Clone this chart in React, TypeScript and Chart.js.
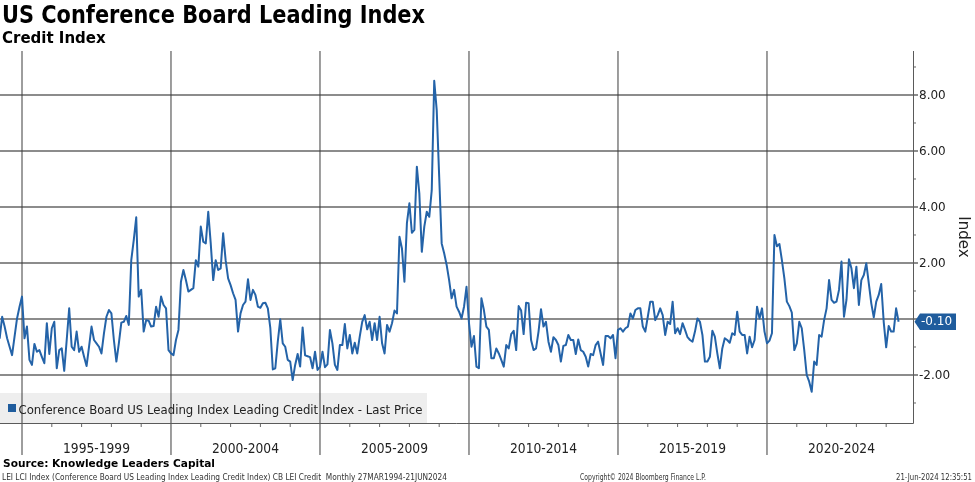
import React, { useEffect, useRef } from 'react';
import { Chart, registerables } from 'chart.js';

Chart.register(...registerables);

const TITLE = 'US Conference Board Leading Index';
const SUBTITLE = 'Credit Index';
const SERIES_LABEL = 'Conference Board US Leading Index Leading Credit Index - Last Price';
const Y_TITLE = 'Index';
const SOURCE = 'Source: Knowledge Leaders Capital';
const FOOT_LEFT = 'LEI LCI Index (Conference Board US Leading Index Leading Credit Index) CB LEI Credit  Monthly 27MAR1994-21JUN2024';
const FOOT_MID = 'Copyright\u00A9 2024 Bloomberg Finance L.P.';
const FOOT_RIGHT = '21-Jun-2024 12:35:51';

// Monthly observations starting March 1994
const START_YEAR = 1994;
const START_MONTH = 3;
const VALUES = [
  -0.2, -0.7, 0.08, -0.27, -0.69, -0.99, -1.29, -0.63, 0.02, 0.44,
  0.8, -0.69, -0.27, -1.46, -1.64, -0.89, -1.17, -1.11, -1.35, -1.58, -0.15, -1.25,
  -0.33, -0.1, -1.76, -1.11, -1.05, -1.85, -0.75, 0.38, -0.99, -1.11, -0.45, -1.17,
  -0.99, -1.35, -1.68, -0.99, -0.27, -0.75, -0.87, -0.99, -1.23, -0.51, 0.08, 0.32,
  0.2, -0.75, -1.52, -0.87, -0.13, -0.1, 0.11, -0.21, 2.1, 2.82, 3.63, 0.8,
  1.04, -0.45, -0.04, -0.06, -0.27, -0.25, 0.44, 0.08, 0.8, 0.5, 0.38, -1.11,
  -1.23, -1.29, -0.75, -0.39, 1.33, 1.75, 1.39, 0.98, 1.04, 1.1, 2.1, 1.87,
  3.3, 2.76, 2.7, 3.83, 2.7, 1.39, 2.1, 1.75, 1.81, 3.06, 2.1, 1.45,
  1.21, 0.92, 0.68, -0.45, 0.2, 0.5, 0.62, 1.42, 0.68, 1.04, 0.86, 0.44,
  0.4, 0.56, 0.58, 0.38, -0.33, -1.8, -1.76, -0.81, -0.01, -0.87, -0.99, -1.46,
  -1.52, -2.18, -1.64, -1.25, -1.7, -0.3, -1.3, -1.33, -1.36, -1.76, -1.17, -1.82,
  -1.71, -1.17, -1.72, -1.62, -0.39, -0.87, -1.64, -1.82, -0.93, -0.93, -0.18, -1.05,
  -0.57, -1.23, -0.85, -1.23, -0.63, -0.1, 0.14, -0.37, -0.1, -0.75, -0.15, -0.75,
  0.08, -0.87, -1.23, -0.21, -0.45, -0.15, 0.3, 0.2, 2.94, 2.52, 1.33, 3.42,
  4.13, 3.08, 3.18, 5.44, 4.49, 2.4, 3.3, 3.83, 3.65, 4.6, 8.51, 7.46,
  5.08, 2.7, 2.35, 1.93, 1.39, 0.74, 1.04, 0.44, 0.26, 0.02, 0.44, 1.15,
  -0.15, -0.99, -0.61, -1.7, -1.76, 0.74, 0.32, -0.27, -0.39, -1.4, -1.4, -1.05,
  -1.23, -1.46, -1.7, -0.93, -1.05, -0.54, -0.42, -1.11, 0.46, 0.3, -0.54, 0.58,
  0.56, -0.75, -1.11, -1.05, -0.45, 0.35, -0.27, -0.1, -0.81, -1.17, -0.65, -0.75,
  -0.93, -1.52, -0.96, -0.93, -0.57, -0.75, -0.75, -1.25, -0.73, -1.11, -1.17, -1.35,
  -1.7, -1.25, -1.29, -0.93, -0.81, -1.23, -1.64, -0.61, -0.61, -0.69, -0.57, -1.4,
  -0.39, -0.33, -0.45, -0.33, -0.27, 0.2, 0.02, 0.32, 0.38, 0.38, -0.27, -0.45,
  0.08, 0.62, 0.62, -0.04, 0.14, 0.38, 0.14, -0.57, -0.1, -0.18, 0.62, -0.51,
  -0.33, -0.54, -0.15, -0.39, -0.65, -0.75, -0.81, -0.45, 0.02, -0.1, -0.57, -1.52,
  -1.52, -1.35, -0.42, -0.63, -1.23, -1.76, -1.05, -0.69, -0.75, -0.85, -0.51, -0.57,
  0.26, -0.45, -0.57, -0.57, -1.23, -0.63, -1.01, -0.75, 0.44, 0.02, 0.38, -0.45,
  -0.87, -0.77, -0.51, 3.0, 2.6, 2.68, 2.1, 1.45, 0.62, 0.46, 0.23, -1.11,
  -0.87, -0.1, -0.33, -1.11, -2.0, -2.24, -2.6, -1.52, -1.64, -0.57, -0.63, -0.04,
  0.38, 1.39, 0.68, 0.58, 0.62, 1.04, 2.05, 0.08, 0.68, 2.13, 1.81, 1.1,
  1.87, 0.5, 1.39, 1.57, 1.99, 1.27, 0.56, 0.06, 0.62, 0.86, 1.25, -0.1,
  -1.01, -0.25, -0.45, -0.45, 0.38, -0.1,
];

const PERIOD_LABELS = ['1995-1999', '2000-2004', '2005-2009', '2010-2014', '2015-2019', '2020-2024'];
const PERIOD_BOUNDS = [1995, 2000, 2005, 2010, 2015, 2020, 2025];
const Y_TICKS = [-2, 0, 2, 4, 6, 8];
const Y_MINOR = [-3, -1, 1, 3, 5, 7, 9];

const LINE_COLOR = '#2463a8';
const TAG_COLOR = '#1f5c9d';
const FONT = '"DejaVu Sans", Verdana, sans-serif';

function text(
  ctx: CanvasRenderingContext2D,
  s: string,
  x: number,
  y: number,
  font: string,
  color: string,
  align: CanvasTextAlign,
  maxW?: number,
  baseline: CanvasTextBaseline = 'alphabetic'
) {
  ctx.font = font;
  ctx.fillStyle = color;
  ctx.textAlign = align;
  ctx.textBaseline = baseline;
  if (maxW) ctx.fillText(s, x, y, maxW);
  else ctx.fillText(s, x, y);
}

const decoPlugin = {
  id: 'deco',
  beforeDatasetsDraw(chart: any) {
    const { ctx, chartArea: a, scales } = chart;
    const x = scales.x;
    const y = scales.y;
    ctx.save();
    // legend background (behind the grid)
    ctx.fillStyle = '#eeeeee';
    ctx.fillRect(0, 393, 427, a.bottom - 393);

    // horizontal grid lines
    ctx.strokeStyle = '#666666';
    ctx.lineWidth = 1.4;
    Y_TICKS.forEach((v) => {
      const py = y.getPixelForValue(v);
      ctx.beginPath();
      ctx.moveTo(a.left, py);
      ctx.lineTo(a.right + 5, py);
      ctx.stroke();
    });
    // minor y ticks
    ctx.lineWidth = 1;
    ctx.strokeStyle = '#666';
    Y_MINOR.forEach((v) => {
      const py = y.getPixelForValue(v);
      if (py < a.top || py > a.bottom) return;
      ctx.beginPath();
      ctx.moveTo(a.right, py);
      ctx.lineTo(a.right + 3, py);
      ctx.stroke();
    });

    // vertical period lines
    ctx.strokeStyle = '#3c3c3c';
    ctx.lineWidth = 1;
    PERIOD_BOUNDS.forEach((b) => {
      const px = x.getPixelForValue(b);
      if (px < a.left || px > a.right) return;
      ctx.beginPath();
      ctx.moveTo(px, a.top);
      ctx.lineTo(px, 455);
      ctx.stroke();
    });
    // yearly minor ticks
    ctx.strokeStyle = '#666';
    for (let yr = PERIOD_BOUNDS[0] - 1; yr <= PERIOD_BOUNDS[PERIOD_BOUNDS.length - 1]; yr++) {
      if (PERIOD_BOUNDS.includes(yr)) continue;
      const px = x.getPixelForValue(yr);
      if (px < a.left || px > a.right) continue;
      ctx.beginPath();
      ctx.moveTo(px, a.bottom);
      ctx.lineTo(px, a.bottom + 4);
      ctx.stroke();
    }

    // axis lines
    ctx.strokeStyle = '#5a5a5a';
    ctx.lineWidth = 1;
    ctx.beginPath();
    ctx.moveTo(a.right + 0.5, a.top);
    ctx.lineTo(a.right + 0.5, a.bottom + 0.5);
    ctx.lineTo(a.left, a.bottom + 0.5);
    ctx.stroke();
    ctx.restore();
  },
  afterDatasetsDraw(chart: any) {
    const { ctx, chartArea: a, scales } = chart;
    const x = scales.x;
    const y = scales.y;
    ctx.save();

    // titles
    text(ctx, TITLE, 2, 23, `bold 24px ${FONT}`, '#000', 'left', 423);
    text(ctx, SUBTITLE, 2, 43, `bold 15px ${FONT}`, '#000', 'left', 106);

    // legend
    ctx.fillStyle = TAG_COLOR;
    ctx.fillRect(8, 404, 8, 8);
    text(ctx, SERIES_LABEL, 18.5, 414, `13px ${FONT}`, '#222', 'left', 404);

    // y tick labels
    Y_TICKS.forEach((v) => {
      const py = y.getPixelForValue(v);
      text(ctx, v.toFixed(2), a.right + 6, py + 0.5, `12px ${FONT}`, '#222', 'left', undefined, 'middle');
    });

    // y axis title
    ctx.save();
    ctx.translate(963, 237);
    ctx.rotate(Math.PI / 2);
    text(ctx, Y_TITLE, 0, 0, `15px ${FONT}`, '#222', 'center', undefined, 'middle');
    ctx.restore();

    // period labels
    PERIOD_LABELS.forEach((lab, i) => {
      const p0 = x.getPixelForValue(PERIOD_BOUNDS[i]);
      const p1 = x.getPixelForValue(PERIOD_BOUNDS[i + 1]);
      text(ctx, lab, (p0 + p1) / 2, 453, `14px ${FONT}`, '#222', 'center', 67);
    });

    // last value tag
    const last = VALUES[VALUES.length - 1];
    const py = y.getPixelForValue(last);
    ctx.fillStyle = TAG_COLOR;
    ctx.beginPath();
    ctx.moveTo(a.right + 1.5, py);
    ctx.lineTo(a.right + 7, py - 8.3);
    ctx.lineTo(a.right + 43, py - 8.3);
    ctx.lineTo(a.right + 43, py + 8.3);
    ctx.lineTo(a.right + 7, py + 8.3);
    ctx.closePath();
    ctx.fill();
    text(ctx, last.toFixed(2), a.right + 8, py + 0.5, `12px ${FONT}`, '#fff', 'left', 33, 'middle');

    // footer
    text(ctx, SOURCE, 3, 467, `bold 11px ${FONT}`, '#000', 'left', 212);
    text(ctx, FOOT_LEFT, 2, 480, `8px ${FONT}`, '#333', 'left', 445);
    text(ctx, FOOT_MID, 580, 480, `8px ${FONT}`, '#333', 'left', 126);
    text(ctx, FOOT_RIGHT, 972, 480, `8px ${FONT}`, '#333', 'right', 76);

    ctx.restore();
  },
};

export default function App() {
  const canvasRef = useRef<HTMLCanvasElement | null>(null);

  useEffect(() => {
    if (!canvasRef.current) return;
    const points = VALUES.map((v, i) => ({
      x: START_YEAR + (START_MONTH - 1 + i) / 12,
      y: v,
    }));
    const chart = new Chart(canvasRef.current, {
      type: 'line',
      data: {
        datasets: [
          {
            label: SERIES_LABEL,
            data: points,
            borderColor: LINE_COLOR,
            backgroundColor: LINE_COLOR,
            borderWidth: 2,
            pointRadius: 0,
            tension: 0,
            borderJoinStyle: 'round',
          },
        ],
      },
      options: {
        responsive: true,
        maintainAspectRatio: false,
        animation: false,
        layout: { padding: { left: 0, right: 62, top: 51, bottom: 59 } },
        scales: {
          x: { type: 'linear', min: 1994.2617, max: 2024.8998, display: false },
          y: { type: 'linear', min: -3.7143, max: 9.5714, display: false },
        },
        plugins: {
          legend: { display: false },
          tooltip: { enabled: false },
          title: { display: false },
        },
      },
      plugins: [decoPlugin],
    });
    return () => chart.destroy();
  }, []);

  return (
    <div
      style={{
        position: 'absolute',
        left: 0,
        top: 0,
        width: 975,
        height: 482,
        background: '#ffffff',
      }}
    >
      <canvas ref={canvasRef} />
    </div>
  );
}
